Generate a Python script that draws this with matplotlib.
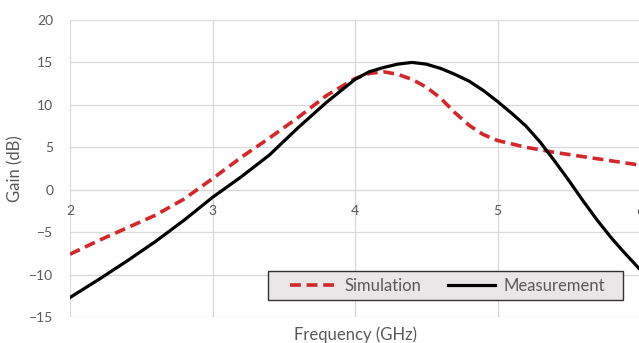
import matplotlib
matplotlib.use("Agg")
import matplotlib.pyplot as plt
from matplotlib.patches import Rectangle

# values
freq_sim = [2.0, 2.2, 2.4, 2.6, 2.8, 3.0, 3.2, 3.4, 3.6, 3.8, 4.0, 4.1, 4.2,
            4.3, 4.4, 4.5, 4.6, 4.7, 4.8, 4.9, 5.0, 5.2, 5.4, 5.6, 5.8, 6.0]
gain_sim = [-7.6, -6.0, -4.5, -3.0, -1.1, 1.3, 3.8, 6.1, 8.5, 11.1, 13.1, 13.7, 13.9,
            13.6, 13.0, 12.1, 10.8, 9.1, 7.6, 6.5, 5.8, 5.0, 4.4, 3.9, 3.4, 2.9]

freq_meas = [2.0, 2.2, 2.4, 2.6, 2.8, 3.0, 3.2, 3.4, 3.6, 3.8, 4.0, 4.1, 4.2,
             4.3, 4.4, 4.5, 4.6, 4.7, 4.8, 4.9, 5.0, 5.1, 5.2, 5.3, 5.4, 5.5,
             5.6, 5.7, 5.8, 5.9, 6.0]
gain_meas = [-12.7, -10.6, -8.4, -6.1, -3.6, -0.9, 1.5, 4.1, 7.3, 10.3, 13.0, 13.9, 14.4,
             14.8, 15.0, 14.8, 14.3, 13.6, 12.8, 11.7, 10.4, 9.0, 7.5, 5.6, 3.4, 1.1,
             -1.3, -3.6, -5.7, -7.6, -9.4]

x_ticks = [2, 3, 4, 5, 6]
y_ticks = [-15, -10, -5, 0, 5, 10, 15, 20]

TEXT = "#595959"
GRID = "#d9d9d9"

plt.rcParams["font.family"] = ["Lato", "DejaVu Sans"]

fig = plt.figure(figsize=(6.39, 3.43), dpi=100)
ax = fig.add_axes([70 / 639, 26 / 343, 570 / 639, 297 / 343])

ax.plot(freq_sim, gain_sim, color="#d4262b", lw=2.6, ls=(0, (3, 1.6)),
        label="Simulation", zorder=3)
ax.plot(freq_meas, gain_meas, color="black", lw=2.3, label="Measurement", zorder=3)

ax.set_xlim(2, 6)
ax.set_ylim(-15, 20)
ax.set_xticks(x_ticks)
ax.set_yticks(y_ticks)
ax.grid(True, color=GRID, lw=0.9)
ax.set_axisbelow(True)

for side in ("top", "right", "left"):
    ax.spines[side].set_visible(False)
ax.spines["bottom"].set_position(("data", 0))
ax.spines["bottom"].set_color(GRID)
ax.spines["bottom"].set_linewidth(0.9)

ax.tick_params(axis="both", length=0, labelsize=10, labelcolor=TEXT)
ax.tick_params(axis="y", pad=12)
ax.tick_params(axis="x", pad=11)

ax.set_xlabel("Frequency (GHz)", fontsize=12, color=TEXT, va="center")
ax.xaxis.set_label_coords(0.5, -0.06)
ax.set_ylabel("Gain (dB)", fontsize=12, color=TEXT, va="center")
ax.yaxis.set_label_coords(-0.095, 0.5)

# legend without frame, then a wider box drawn behind it (Excel-style padding)
leg = ax.legend(loc="center", bbox_to_anchor=(0.662, 0.106), ncol=2,
                fontsize=12, frameon=False, handlelength=2.8,
                handletextpad=0.5, columnspacing=1.6, borderpad=0)
leg.set_zorder(6)
for t in leg.get_texts():
    t.set_color(TEXT)

fig.canvas.draw()
bb = leg.get_window_extent()
cy = (bb.y0 + bb.y1) / 2
x0, x1 = bb.x0 - 22, bb.x1 + 18
y0, y1 = cy - 14.5, cy + 14.5
inv = fig.transFigure.inverted()
(fx0, fy0), (fx1, fy1) = inv.transform([(x0, y0), (x1, y1)])
box = Rectangle((fx0, fy0), fx1 - fx0, fy1 - fy0, transform=fig.transFigure,
                facecolor="#e8e6e6", edgecolor="#333333", lw=1.0, zorder=5,
                clip_on=False)
ax.add_patch(box)

fig.savefig("out.png", dpi=100)
